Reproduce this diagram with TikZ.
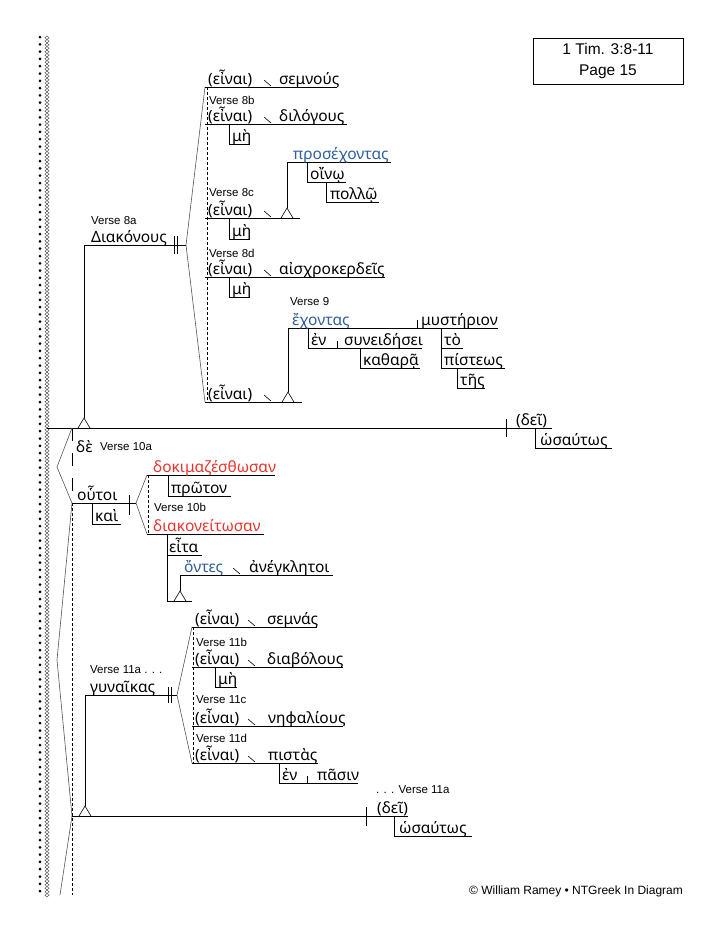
\documentclass[tikz,border=0pt]{standalone}
\usepackage{fontspec}
\setmainfont{Liberation Sans}
\newfontfamily\gk{Noto Sans}
\definecolor{gred}{RGB}{232,52,44}
\definecolor{gblue}{RGB}{46,94,158}
\definecolor{brkc}{RGB}{85,85,85}
\tikzset{
  ln/.style={line width=0.8pt, black},
  brk/.style={line width=0.6pt, brkc},
  fdash/.style={line width=0.6pt, black, dash pattern=on 3pt off 2pt},
  ldash/.style={line width=0.8pt, black, dash pattern=on 13pt off 12pt},
  gw/.style={font=\gk\fontsize{15.5}{17}\selectfont, anchor=base west, inner sep=0pt},
  vl/.style={font=\fontsize{11.5}{13}\selectfont, anchor=west, inner sep=0pt},
  ped/.pic={\draw[ln, line width=0.6pt] (-6,0) -- (0,-10) -- (6,0);},
  slsh/.pic={\draw[ln, line width=0.6pt] (0,-7) -- (7,-1);}
}
\begin{document}
\begin{tikzpicture}[x=1pt, y=-1pt]
\fill[white] (0,0) rectangle (718,930);
\useasboundingbox (0,0) rectangle (718,930);
% decorative border
\foreach \i in {0,...,117} \fill (40,37+7.3*\i) circle (1.5);
\foreach \i in {0,...,245} \draw[black!70, line width=0.45pt] (47,36+3.5*\i) -- ++(2,1.75) -- ++(-2,1.75) -- ++(-2,-1.75) -- cycle;
% title box
\node[draw, line width=0.8pt, minimum width=150pt, minimum height=46pt, align=center, font=\fontsize{15.5}{21}\selectfont, inner sep=0pt] (title) at (608,61) {1 Tim. 3:8-11\\Page 15};
\node[anchor=west, inner sep=0pt, font=\fontsize{12}{13}\selectfont] (copy) at (469,891) {© William Ramey • NTGreek In Diagram};

% ===== Main clause verse 8-9
\coordinate (mL) at (47,428); \coordinate (mR) at (552,428);
\draw[ln] (mL) -- (mR);
\coordinate (dv1a) at (506,419); \coordinate (dv1b) at (506,437);
\draw[ln] (dv1a) -- (dv1b);
\node[gw] (dei1) at (516,425) {(δεῖ)};
\coordinate (os1a) at (535,428); \coordinate (os1b) at (612,448);
\draw[ln] (os1a) |- (os1b);
\node[gw] (osa1) at (540,445) {ὡσαύτως};
\coordinate (s1top) at (84,245); \coordinate (s1ap) at (84,418);
\draw[ln] (s1top) -- (s1ap);
\pic at (84,428) {ped};
\coordinate (dkR) at (186,245);
\draw[ln] (s1top) -- (dkR);
\node[gw] (diak) at (91,242) {Διακόνους};
\draw[ln] (174,236) -- (174,254) (177,236) -- (177,254);
\node[vl] (v8a) at (91,221) {Verse 8a};
% bracket
\coordinate (bA) at (205,87); \coordinate (bE) at (205,402);
\draw[brk] (bA) -- (dkR) -- (bE);
\draw[fdash] (207,87) -- (207,402);
% Row A
\draw[ln] (bA) -- (337,87);
\node[gw] (eA) at (208,84) {(εἶναι)};
\pic at (264,87) {slsh};
\node[gw] (semn) at (279,84) {σεμνούς};
\node[vl] (v8b) at (209,100) {Verse 8b};
% Row B
\draw[ln] (205,124) -- (347,124);
\node[gw] (eB) at (208,121) {(εἶναι)};
\pic at (264,124) {slsh};
\node[gw] (dil) at (279,121) {διλόγους};
\draw[ln] (229,124) |- (250,144);
\node[gw] (meB) at (232,141) {μὴ};
% Row C
\node[vl] (v8c) at (209,193) {Verse 8c};
\draw[ln] (205,218) -- (300,218);
\node[gw] (eC) at (208,215) {(εἶναι)};
\pic at (264,218) {slsh};
\pic at (287,218) {ped};
\draw[ln] (287,208) -- (287,162) -- (391,162);
\node[gw, text=gblue] (pros) at (293,159) {προσέχοντας};
\draw[ln] (307,162) |- (346,182);
\node[gw] (oin) at (310,179) {οἴνῳ};
\draw[ln] (326,182) |- (379,202);
\node[gw] (pol) at (330,199) {πολλῷ};
\draw[ln] (229,218) |- (250,239);
\node[gw] (meC) at (232,236) {μὴ};
% Row D
\node[vl] (v8d) at (209,253) {Verse 8d};
\draw[ln] (205,277) -- (385,277);
\node[gw] (eD) at (208,274) {(εἶναι)};
\pic at (264,277) {slsh};
\node[gw] (aisx) at (279,274) {αἰσχροκερδεῖς};
\draw[ln] (229,277) |- (250,297);
\node[gw] (meD) at (232,294) {μὴ};
% Row E
\node[vl] (v9) at (290,302) {Verse 9};
\draw[ln] (bE) -- (302,402);
\node[gw] (eE) at (208,399) {(εἶναι)};
\pic at (264,402) {slsh};
\pic at (288,402) {ped};
\draw[ln] (288,392) -- (288,328) -- (498,328);
\node[gw, text=gblue] (exo) at (292,325) {ἔχοντας};
\draw[ln] (417,320) -- (417,328);
\node[gw] (myst) at (421,325) {μυστήριον};
\draw[ln] (308,328) |- (422,348);
\node[gw] (en1) at (311,345) {ἐν};
\draw[ln] (337,341) -- (337,348);
\node[gw] (syn) at (344,345) {συνειδήσει};
\draw[ln] (360,348) |- (420,368);
\node[gw] (kath) at (363,365) {καθαρᾷ};
\draw[ln] (441,328) |- (463,348);
\node[gw] (to) at (444,345) {τὸ};
\draw[ln] (441,348) |- (505,368);
\node[gw] (pist) at (444,365) {πίστεως};
\draw[ln] (457,368) |- (485,388);
\node[gw] (tes) at (460,385) {τῆς};

% ===== Verse 10
\draw[ldash] (72,428) -- (72,503);
\node[gw] (de) at (76,452) {δὲ};
\node[vl] (v10a) at (100,447) {Verse 10a};
\coordinate (lb1) at (57,467);
\coordinate (ou) at (72,503);
\draw[brk] (72,428) -- (lb1) -- (ou);
\coordinate (ouR) at (136,503);
\draw[ln] (ou) -- (ouR);
\node[gw] (outoi) at (77,500) {οὗτοι};
\draw[ln] (129,495) -- (129,515);
\draw[ln] (92,503) |- (121,524);
\node[gw] (kai) at (95,521) {καὶ};
\coordinate (dokL) at (147,475); \coordinate (diaL) at (147,534);
\draw[brk] (dokL) -- (ouR) -- (diaL);
\draw[fdash] (148,475) -- (148,534);
\draw[ln] (dokL) -- (275,475);
\node[gw, text=gred] (dok) at (153,472) {δοκιμαζέσθωσαν};
\draw[ln] (168,475) |- (231,496);
\node[gw] (prot) at (171,493) {πρῶτον};
\node[vl] (v10b) at (154,507) {Verse 10b};
\draw[ln] (diaL) -- (264,534);
\node[gw, text=gred] (diakon) at (153,531) {διακονείτωσαν};
\draw[ln] (167,534) -- (167,601) -- (192,601);
\draw[ln] (167,555) -- (202,555);
\node[gw] (eita) at (169,552) {εἶτα};
\pic at (180,601) {ped};
\draw[ln] (180,591) -- (180,575) -- (333,575);
\node[gw, text=gblue] (ontes) at (184,572) {ὄντες};
\pic at (233,575) {slsh};
\node[gw] (aneg) at (249,572) {ἀνέγκλητοι};

% ===== Verse 11
\coordinate (lb2) at (57,660);
\coordinate (m2L) at (72,816);
\draw[brk] (ou) -- (lb2) -- (m2L);
\draw[fdash] (72,503) -- (72,895);
\coordinate (lb3) at (60,895);
\draw[brk] (m2L) -- (lb3);
\draw[ln] (m2L) -- (408,816);
\draw[ln] (366,807) -- (366,826);
\node[gw] (dei2) at (377,813) {(δεῖ)};
\draw[ln] (394,816) |- (472,836);
\node[gw] (osa2) at (399,833) {ὡσαύτως};
\node[vl] (v11e) at (376,790) {. . . Verse 11a};
\coordinate (s2top) at (85,695);
\draw[ln] (s2top) -- (85,806);
\pic at (85,816) {ped};
\coordinate (gyR) at (177,695);
\draw[ln] (s2top) -- (gyR);
\node[gw] (gyn) at (90,692) {γυναῖκας};
\draw[ln] (168,687) -- (168,703) (171,687) -- (171,703);
\node[vl] (v11a) at (90,670) {Verse 11a . . .};
\coordinate (cA) at (192,627); \coordinate (cD) at (192,763);
\draw[brk] (cA) -- (gyR) -- (cD);
\draw[fdash] (193,627) -- (193,763);
% rows
\draw[ln] (cA) -- (317,627);
\node[gw] (fA) at (195,624) {(εἶναι)};
\pic at (248,627) {slsh};
\node[gw] (semna) at (267,624) {σεμνάς};
\node[vl] (v11b) at (196,642) {Verse 11b};
\draw[ln] (192,667) -- (343,667);
\node[gw] (fB) at (195,664) {(εἶναι)};
\pic at (248,667) {slsh};
\node[gw] (diab) at (267,664) {διαβόλους};
\draw[ln] (215,667) |- (237,687);
\node[gw] (meF) at (218,684) {μὴ};
\node[vl] (v11c) at (196,700) {Verse 11c};
\draw[ln] (192,726) -- (343,726);
\node[gw] (fC) at (195,723) {(εἶναι)};
\pic at (248,726) {slsh};
\node[gw] (nhf) at (268,723) {νηφαλίους};
\node[vl] (v11d) at (196,738) {Verse 11d};
\draw[ln] (cD) -- (318,763);
\node[gw] (fD) at (195,760) {(εἶναι)};
\pic at (248,763) {slsh};
\node[gw] (pista) at (268,760) {πιστὰς};
\draw[ln] (279,763) |- (358,783);
\node[gw] (en2) at (282,780) {ἐν};
\draw[ln] (307,776) -- (307,783);
\node[gw] (pasin) at (317,780) {πᾶσιν};
\end{tikzpicture}
\end{document}
